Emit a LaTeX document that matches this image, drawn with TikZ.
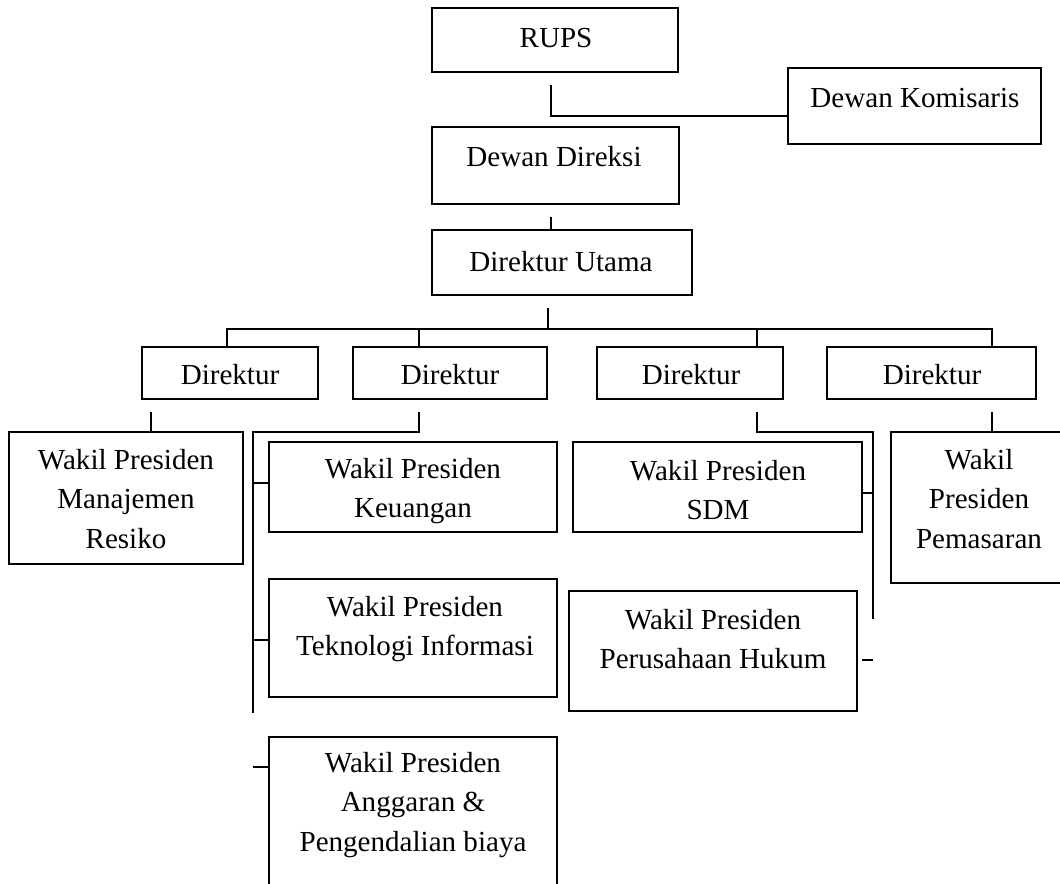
\documentclass[tikz,border=0pt]{standalone}
\usepackage{fontspec}
\setmainfont{Liberation Serif}
\usetikzlibrary{fit}
\begin{document}
\begin{tikzpicture}[x=0.75pt,y=-0.75pt,
  box/.style={draw=black,line width=1.5pt,inner sep=0pt},
  txt/.style={align=center,inner sep=0pt,font=\fontsize{21.8}{29.3}\selectfont},
  link/.style={draw=black,line width=1.15pt}]
\useasboundingbox (0,0) rectangle (1060,883);

% top of the chart
\node[box,fit={(432,8) (678,72)}] (rups) {};
\node[txt] at (556,38) {RUPS};
\node[box,fit={(788,68) (1041,144)}] (dk) {};
\node[txt] at (915,98) {Dewan Komisaris};
\node[box,fit={(432,127) (679,204)}] (dd) {};
\node[txt] at (554,157) {Dewan Direksi};
\node[box,fit={(432,230) (692,295)}] (du) {};
\node[txt] at (561,262) {Direktur Utama};

% directors
\node[box,fit={(142,347) (318,399)}] (d1) {};
\node[txt] at (230,375) {Direktur};
\node[box,fit={(353,347) (547,399)}] (d2) {};
\node[txt] at (450,375) {Direktur};
\node[box,fit={(597,347) (783,399)}] (d3) {};
\node[txt] at (691,375) {Direktur};
\node[box,fit={(827,347) (1036,399)}] (d4) {};
\node[txt] at (932,375) {Direktur};

% vice presidents
\node[box,fit={(9,432) (243,564)}] (vmr) {};
\node[txt] at (126,499) {Wakil Presiden\\Manajemen\\Resiko};
\node[box,fit={(269,442) (557,532)}] (vku) {};
\node[txt] at (413,491) {Wakil Presiden\\Keuangan};
\node[box,fit={(269,579) (557,697)}] (vti) {};
\node[txt] at (415,629) {Wakil Presiden\\Teknologi Informasi};
\node[box,fit={(269,737) (557,895)}] (vab) {};
\node[txt] at (413,805) {Wakil Presiden\\Anggaran \&\\Pengendalian biaya};
\node[box,fit={(573,442) (862,532)}] (vsdm) {};
\node[txt] at (718,490) {Wakil Presiden\\SDM};
\node[box,fit={(569,591) (857,711)}] (vph) {};
\node[txt] at (713,639) {Wakil Presiden\\Perusahaan Hukum};
\node[box,fit={(891,432) (1070,583)}] (vpm) {};
\node[txt] at (979,499) {Wakil\\Presiden\\Pemasaran};

% connector end points
\coordinate (c1) at (551,85);
\coordinate (c2) at (551,217);
\coordinate (c3) at (548,308);
\coordinate (c4) at (548,329);
\coordinate (d1s) at (151,412);
\coordinate (d2s) at (419,412);
\coordinate (d3s) at (757,412);
\coordinate (d4s) at (992,412);
\coordinate (tl) at (253,432);
\coordinate (lend) at (253,713);
\coordinate (tr) at (873,432);
\coordinate (rend) at (873,619);
\coordinate (ph) at (862,660);

% RUPS to Dewan Komisaris
\draw[link] (c1) |- (dk.west |- 0,116);
% Dewan Direksi to Direktur Utama
\draw[link] (c2) -- (c2 |- du.north);
% Direktur Utama to the directors
\draw[link] (c3) -- (c4);
\draw[link] (d1.north -| 227,0) -- (227,329) -- (992,329) -- (d4.north -| 992,0);
\draw[link] (419,329) -- (d2.north -| 419,0);
\draw[link] (757,329) -- (d3.north -| 757,0);
% first director
\draw[link] (d1s) -- (d1s |- vmr.north);
% second director
\draw[link] (d2s) |- (tl) -- (lend);
\draw[link] (253,483) -- (vku.west |- 0,483);
\draw[link] (253,640) -- (vti.west |- 0,640);
\draw[link] (253,767) -- (vab.west |- 0,767);
% third director
\draw[link] (d3s) |- (tr) -- (rend);
\draw[link] (vsdm.east |- 0,493) -- (873,493);
\draw[link] (ph) -- (873,660);
% fourth director
\draw[link] (d4s) -- (d4s |- vpm.north);
\end{tikzpicture}
\end{document}
